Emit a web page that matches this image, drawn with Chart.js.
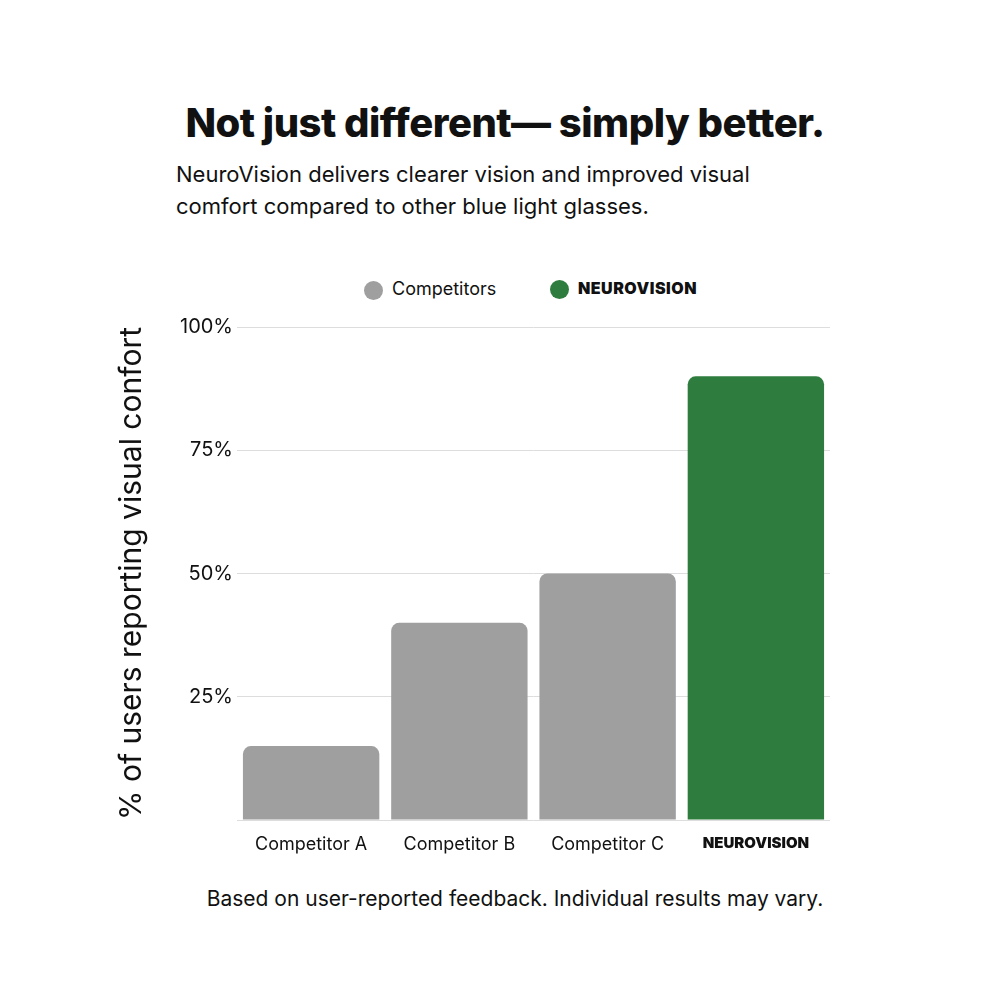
<!DOCTYPE html>
<html><head><meta charset="utf-8">
<script src="https://cdn.jsdelivr.net/npm/chart.js@4"></script>
<style>
body{margin:0;width:1000px;height:1000px;background:#fff;font-family:Inter,"Open Sans",sans-serif;position:relative;overflow:hidden;color:#111}
.t{position:absolute;white-space:nowrap}
#wrap{position:absolute;left:0;top:0;width:1000px;height:1000px}
.dot{display:inline-block;width:19px;height:19px;border-radius:50%;vertical-align:middle;margin-right:9px}
</style></head><body>
<div class="t" style="left:0;width:1010px;text-align:center;top:98px;font-size:40px;font-weight:800;letter-spacing:-0.5px">Not just different— simply better.</div>
<div class="t" style="left:176px;top:158px;font-size:22px;line-height:32px">NeuroVision delivers clearer vision and improved visual<br>comfort compared to other blue light glasses.</div>
<div class="t" style="left:364px;top:278px;font-size:18px"><span class="dot" style="background:#a09f9f"></span>Competitors</div>
<div class="t" style="left:550px;top:278px;font-size:16px;font-weight:900;letter-spacing:0.5px"><span class="dot" style="background:#2e7d3e"></span>NEUROVISION</div>
<div class="t" style="left:0;width:1030px;text-align:center;top:886px;font-size:21px">Based on user-reported feedback. Individual results may vary.</div>
<div id="wrap"><canvas id="c" width="1000" height="1000"></canvas></div>
<script>
const categories=["Competitor A","Competitor B","Competitor C","NEUROVISION"];
const values=[15,40,50,90];
const colors=["#a09f9f","#a09f9f","#a09f9f","#2e7d3e"];
const yTicks=[0,25,50,75,100];
new Chart(document.getElementById('c'),{type:'bar',
data:{labels:categories,datasets:[{data:values,backgroundColor:colors,borderRadius:8,borderSkipped:'start',categoryPercentage:0.92,barPercentage:1}]},
options:{responsive:false,animation:false,
layout:{padding:{left:110,top:327,right:170,bottom:140}},
plugins:{legend:{display:false},tooltip:{enabled:false}},
scales:{
x:{grid:{display:false},border:{display:false},
 ticks:{color:'#111',padding:6,font:(ctx)=>({family:'Inter',size:ctx.index===3?15:18,weight:ctx.index===3?'900':'normal'})},
 afterFit:s=>{s.height=40}},
y:{min:0,max:100,afterBuildTicks:s=>{s.ticks=yTicks.map(v=>({value:v}))},
 grid:{color:'#dddddd',drawTicks:false},border:{display:false},
 ticks:{color:'#111',padding:4,font:{family:'Inter',size:20},callback:v=>v===0?'':v+'%'},
 title:{display:true,text:'% of users reporting visual confort',color:'#111',font:{family:'Inter',size:30},padding:{bottom:20}},
 afterFit:s=>{s.width=127}}
}}});
</script></body></html>
